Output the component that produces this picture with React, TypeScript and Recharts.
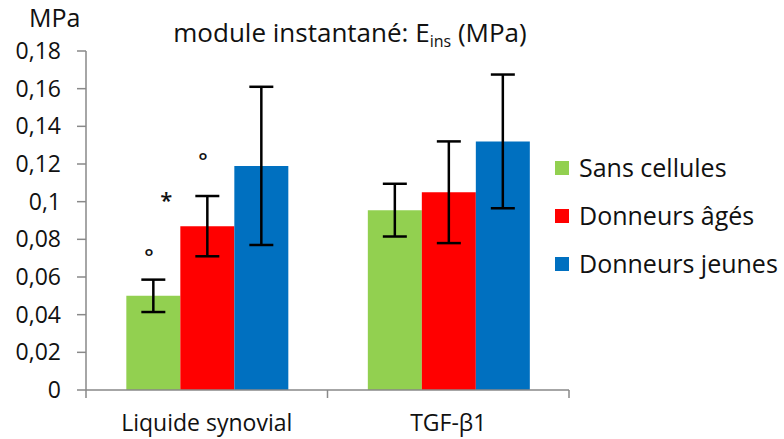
import React from 'react';
import { BarChart, Bar, XAxis, YAxis, ErrorBar, LabelList } from 'recharts';

// Catégories et séries
const categories = ['Liquide synovial', 'TGF-β1'];
const sansCellules = [0.05, 0.0955];
const donneursAges = [0.087, 0.105];
const donneursJeunes = [0.119, 0.132];

// Écarts-types (barres d'erreur)
const errSansCellules = [0.0086, 0.014];
const errDonneursAges = [0.016, 0.027];
const errDonneursJeunes = [0.042, 0.0355];

const yTicks = [0, 0.02, 0.04, 0.06, 0.08, 0.1, 0.12, 0.14, 0.16, 0.18];
const yTickLabels = ['0', '0,02', '0,04', '0,06', '0,08', '0,1', '0,12', '0,14', '0,16', '0,18'];

// Marques de significativité : texte et niveau (MPa) au-dessus des barres
const marksSans = ['°', ''];
const levelsSans = [0.0727, 0];
const marksAges = ['°', ''];
const levelsAges = [0.1236, 0];
const starAges = ['*', ''];
const starLevels = [0.1029, 0];

const colors = {
  sans: '#92D050',
  ages: '#FF0000',
  jeunes: '#0070C0',
  axis: '#898989',
  text: '#111111',
};

const legendItems = [
  { name: 'Sans cellules', color: colors.sans },
  { name: 'Donneurs âgés', color: colors.ages },
  { name: 'Donneurs jeunes', color: colors.jeunes },
];

const FONT = '"Open Sans", sans-serif';

const data = categories.map((name, i) => ({
  name,
  sans: sansCellules[i],
  ages: donneursAges[i],
  jeunes: donneursJeunes[i],
  errSans: errSansCellules[i],
  errAges: errDonneursAges[i],
  errJeunes: errDonneursJeunes[i],
}));

const W = 784;
const H = 439;
const TICK_MARGIN = 18;

// Place une marque à un niveau donné, via l'échelle implicite de la barre
const markRenderer = (marks: string[], levels: number[], values: number[], dxFrac: number) => (props: any) => {
  const { x, y, width, height, index } = props;
  const m = marks[index];
  if (!m || !height) return null;
  const perUnit = height / values[index];
  const py = y + height - levels[index] * perUnit;
  return (
    <text
      x={x + width * dxFrac}
      y={py + 12}
      textAnchor="middle"
      fontSize={22}
      fontFamily={FONT}
      fontWeight={600}
      fill={colors.text}
    >
      {m}
    </text>
  );
};

// Étiquette de catégorie + graduations aux limites des catégories
const CategoryTick = (props: any) => {
  const { x, y, payload, index, visibleTicksCount } = props;
  const half = payload?.offset || 120.75;
  const axisY = y - TICK_MARGIN;
  const isLast = index === (visibleTicksCount ?? categories.length) - 1;
  return (
    <g>
      <line x1={x - half} x2={x - half} y1={axisY} y2={axisY + 8} stroke={colors.axis} strokeWidth={1.5} />
      {isLast && (
        <line x1={x + half} x2={x + half} y1={axisY} y2={axisY + 8} stroke={colors.axis} strokeWidth={1.5} />
      )}
      <text x={x} y={axisY + 41} textAnchor="middle" fontSize={23} fontFamily={FONT} fill={colors.text}>
        {payload.value}
      </text>
    </g>
  );
};

export default function App() {
  return (
    <div style={{ position: 'absolute', left: 0, top: 0, width: W, height: H, background: '#fff' }}>
      <BarChart
        width={W}
        height={H}
        data={data}
        margin={{ top: 51, right: 215, left: 0, bottom: 0 }}
        barCategoryGap="16.7%"
        barGap={0}
      >
        <XAxis
          xAxisId="cat"
          dataKey="name"
          height={49}
          tickSize={0}
          tickMargin={TICK_MARGIN}
          stroke={colors.axis}
          strokeWidth={1.5}
          interval={0}
          tick={<CategoryTick />}
        />
        <YAxis
          domain={[0, 0.18]}
          ticks={yTicks}
          interval={0}
          width={86}
          tickSize={9}
          tickMargin={16}
          stroke={colors.axis}
          strokeWidth={1.5}
          tickFormatter={(v: number) => yTickLabels[yTicks.indexOf(v)] ?? String(v)}
          tick={{ fontSize: 23, fill: colors.text, fontFamily: FONT }}
        />
        <Bar dataKey="sans" xAxisId="cat" fill={colors.sans} isAnimationActive={false}>
          <ErrorBar dataKey="errSans" width={12} stroke="#000" strokeWidth={2.5} direction="y" />
          <LabelList content={markRenderer(marksSans, levelsSans, sansCellules, 0.42)} />
        </Bar>
        <Bar dataKey="ages" xAxisId="cat" fill={colors.ages} isAnimationActive={false}>
          <ErrorBar dataKey="errAges" width={12} stroke="#000" strokeWidth={2.5} direction="y" />
          <LabelList content={markRenderer(marksAges, levelsAges, donneursAges, 0.42)} />
          <LabelList content={markRenderer(starAges, starLevels, donneursAges, -0.26)} />
        </Bar>
        <Bar dataKey="jeunes" xAxisId="cat" fill={colors.jeunes} isAnimationActive={false}>
          <ErrorBar dataKey="errJeunes" width={12} stroke="#000" strokeWidth={2.5} direction="y" />
        </Bar>
      </BarChart>
      <svg
        width={W}
        height={H}
        style={{ position: 'absolute', left: 0, top: 0, pointerEvents: 'none' }}
        fontFamily={FONT}
      >
        <text x={29} y={27} fontSize={25} fill={colors.text}>MPa</text>
        <text x={350} y={42} textAnchor="middle" fontSize={26} fill={colors.text}>
          module instantané: E
          <tspan fontSize={16} dy={5}>ins</tspan>
          <tspan dy={-5}> (MPa)</tspan>
        </text>
        {legendItems.map((item, i) => (
          <g key={item.name}>
            <rect x={555} y={161 + i * 48} width={14} height={14} fill={item.color} />
            <text x={579} y={177 + i * 48} fontSize={25} fill={colors.text}>
              {item.name}
            </text>
          </g>
        ))}
      </svg>
    </div>
  );
}
